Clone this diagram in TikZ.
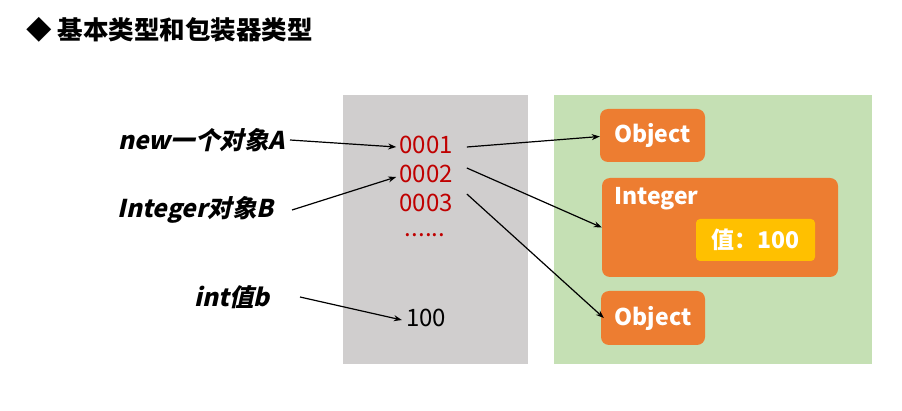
\documentclass[tikz,border=0pt]{standalone}
\usepackage{fontspec}
\setmainfont{Noto Sans CJK SC}
\newfontfamily\cjkit[FakeSlant=0.22]{Noto Sans CJK SC}
\usetikzlibrary{arrows.meta}
\definecolor{grayback}{HTML}{D0CECE}
\definecolor{greenback}{HTML}{C5E0B4}
\definecolor{orangebox}{HTML}{ED7D31}
\definecolor{yellowbox}{HTML}{FFC000}
\definecolor{addrred}{HTML}{C00000}
\tikzset{
  x=1pt, y=-1pt,
  objbox/.style={fill=orangebox, rounded corners=8pt, inner sep=0pt},
  boxtext/.style={text=white, font=\bfseries\fontsize{23}{26}\selectfont, inner sep=0pt},
  addr/.style={text=addrred, font=\fontsize{24}{27}\selectfont, inner sep=0pt},
  lbl/.style={font=\cjkit\bfseries\fontsize{24.5}{28}\selectfont, inner sep=0pt},
  arr/.style={-{Stealth[length=8pt,width=6pt]}, line width=1.2pt},
}
\begin{document}
\begin{tikzpicture}
\useasboundingbox (0,0) rectangle (902,411);
\node[anchor=west, inner sep=0pt, font=\bfseries\fontsize{25.5}{28}\selectfont] (title) at (26,30) {◆ 基本类型和包装器类型};
\fill[grayback] (343,95) rectangle (528,364);
\fill[greenback] (554,95) rectangle (872,364);
\node[objbox, minimum width=105pt, minimum height=53pt] (obj1) at (652.5,135.5) {};
\node[boxtext] at (obj1) {Object};
\node[objbox, minimum width=236pt, minimum height=99pt] (intbox) at (720,227.5) {};
\node[boxtext, anchor=west] (intlbl) at (614,199) {Integer};
\node[fill=yellowbox, rounded corners=4pt, minimum width=119pt, minimum height=42pt, inner sep=0pt] (val) at (755.5,240) {};
\node[boxtext] at (val) {值：100};
\node[objbox, minimum width=104pt, minimum height=54pt] (obj2) at (653,318) {};
\node[boxtext] at (obj2) {Object};
\node[addr] (a1) at (426,145) {0001};
\node[addr] (a2) at (426,174) {0002};
\node[addr] (a3) at (426,203) {0003};
\node[addr] (dots) at (425,235) {......};
\node[inner sep=0pt, font=\fontsize{24}{27}\selectfont] (v100) at (426,318) {100};
\node[lbl, anchor=east] (lA) at (285,140) {new一个对象A};
\node[lbl, anchor=east] (lB) at (274,210) {Integer对象B};
\node[lbl, anchor=east] (lb) at (270,297) {int值b};
\draw[arr] ([xshift=5pt]lA.east) -- ([xshift=-3pt,yshift=-2pt]a1.west);
\draw[arr] ([xshift=18pt,yshift=0pt]lB.east) -- ([xshift=-3pt,yshift=-3pt]a2.west);
\draw[arr] ([xshift=30pt]lb.east) -- ([xshift=-4pt,yshift=-2pt]v100.west);
\draw[arr] ([xshift=14pt,yshift=-2pt]a1.east) -- ([yshift=-1pt]obj1.west);
\draw[arr] ([xshift=14pt,yshift=6pt]a2.east) -- (intbox.west);
\draw[arr] ([xshift=14pt,yshift=9pt]a3.east) -- ([xshift=3pt]obj2.west);
\end{tikzpicture}
\end{document}
